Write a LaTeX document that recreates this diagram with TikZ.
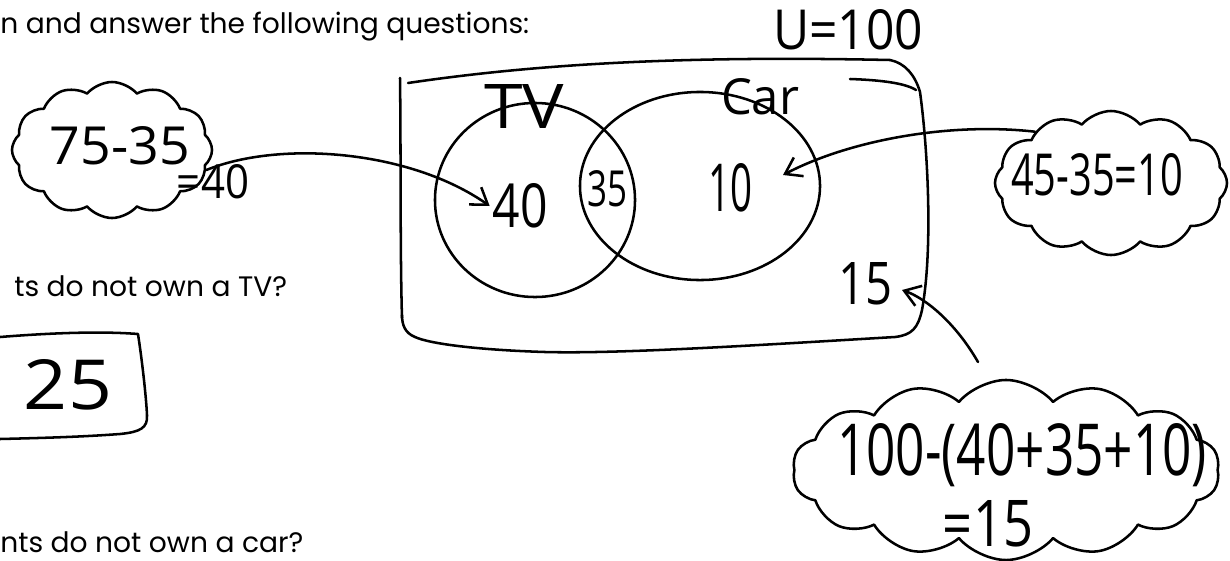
\documentclass[tikz,border=0pt]{standalone}
\usepackage{fontspec}
\usepackage{graphicx}
\setmainfont{Poppins}
\newfontfamily\handfont{Open Sans}
\usetikzlibrary{shapes.symbols,shapes.geometric,arrows.meta}
\newlength\pxu \setlength\pxu{0.025cm}
\newcommand{\hw}[3]{\resizebox{#1\pxu}{#2\pxu}{\handfont #3}}
\begin{document}
\begin{tikzpicture}[x=0.025cm,y=-0.025cm,
  ink/.style={line width=1.8pt, line cap=round, line join=round},
  hand/.style={inner sep=0pt, outer sep=0pt},
  typed/.style={inner sep=0pt, anchor=base west, font=\fontsize{20}{24}\selectfont},
  cloudbox/.style={cloud, cloud puffs=12, cloud puff arc=100, cloud ignores aspect, draw, ink, inner sep=0pt},
  circ/.style={ellipse, draw, ink, inner sep=0pt},
  arr/.style={ink, -{Straight Barb[length=11pt,width=15pt]}}]
\useasboundingbox (0,0) rectangle (1230,560);

% typed question text
\node[typed] (q0) at (0,33) {n and answer the following questions:};
\node[typed] (q1) at (14,296) {ts do not own a TV?};
\node[typed] (q2) at (0,552) {nts do not own a car?};

% answer box 25
\draw[ink] (0,337) .. controls (50,333) and (100,331) .. (138,334)
  .. controls (142,360) and (146,395) .. (147,415)
  .. controls (148,428) and (140,432) .. (120,434)
  .. controls (80,437) and (40,438) .. (0,439);
\node[hand] (n25) at (68,385) {\hw{88}{50}{25}};

% cloud 75-35
\node[cloudbox, minimum width=5cm, minimum height=3.4cm] (c1) at (112,150) {};
\node[hand] (t7535) at (120,146) {\hw{140}{38}{75-35}};
\node[hand] (t40) at (213,182) {\hw{72}{34}{=40}};

% universe rectangle
\draw[ink] (408,83) .. controls (550,62) and (700,56) .. (890,60)
  .. controls (905,63) and (915,75) .. (920,92)
  .. controls (928,150) and (933,250) .. (922,310)
  .. controls (918,328) and (912,335) .. (895,337)
  .. controls (760,345) and (620,354) .. (545,352)
  .. controls (480,350) and (430,344) .. (415,337)
  .. controls (405,333) and (402,325) .. (402,315);
\draw[ink] (400,78) .. controls (401,150) and (400,250) .. (402,318);
\draw[ink] (850,79) .. controls (880,80) and (905,83) .. (916,90);
\node[hand] (u) at (848,30) {\hw{150}{40}{U=100}};

% Venn circles
\node[circ, minimum width=5cm, minimum height=4.85cm] (tv) at (535,200) {};
\node[circ, minimum width=6cm, minimum height=4.7cm] (car) at (700,186) {};
\node[hand] (ltv) at (524,106) {\hw{80}{44}{TV}};
\node[hand] (lcar) at (760,97) {\hw{78}{36}{Car}};
\node[hand] (n40) at (520,206) {\hw{55}{44}{40}};
\node[hand] (n35) at (607,189) {\hw{40}{36}{35}};
\node[hand] (n10) at (730,188) {\hw{44}{48}{10}};
\node[hand] (n15) at (865,284) {\hw{54}{42}{15}};

% cloud 45-35=10
\node[cloudbox, minimum width=5.8cm, minimum height=3.6cm] (c2) at (1111,183) {};
\node[hand] (t45) at (1097,175) {\hw{172}{42}{45-35=10}};

% cloud 100-(40+35+10)
\node[cloudbox, cloud puffs=14, minimum width=10.675cm, minimum height=4.5cm] (c3) at (1006,470) {};
\node[hand] (t100) at (1022,455) {\hw{370}{52}{100-(40+35+10)}};
\node[hand] (t15) at (988,524) {\hw{90}{46}{=15}};

% arrows
\draw[arr] (c1.-12) .. controls (280,140) and (410,150) .. ([xshift=-2pt]n40.west);
\draw[arr] (c2.146) .. controls (950,122) and (850,140) .. ([xshift=0.775cm,yshift=0.325cm]n10.east);
\coordinate (tail15) at (978,362);
\draw[arr] (tail15) .. controls (955,322) and (925,298) .. ([xshift=0.25cm,yshift=-0.15cm]n15.east);
\end{tikzpicture}
\end{document}
